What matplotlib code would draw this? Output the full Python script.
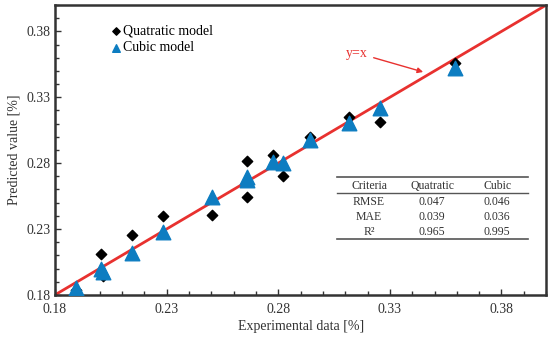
import numpy as np
import matplotlib.pyplot as plt
from matplotlib.ticker import MultipleLocator

plt.rcParams['font.family'] = ['Liberation Serif', 'DejaVu Serif']

exp_data = [0.1894, 0.2006, 0.2015, 0.2145, 0.2284, 0.2505, 0.2658, 0.2662,
            0.2777, 0.2821, 0.2942, 0.3117, 0.3256, 0.3592]
quad_pred = [0.184, 0.211, 0.194, 0.2255, 0.240, 0.2407, 0.2817, 0.2543,
             0.2862, 0.2703, 0.2999, 0.315, 0.311, 0.356]
cubic_pred = [0.185, 0.1995, 0.197, 0.212, 0.2278, 0.2543, 0.2695, 0.267,
              0.281, 0.280, 0.2976, 0.3105, 0.3219, 0.3522]

ticks = [0.18, 0.23, 0.28, 0.33, 0.38]
table_cols = ["Criteria", "Quatratic", "Cubic"]
table_rows = [["RMSE", "0.047", "0.046"],
              ["MAE", "0.039", "0.036"],
              ["R\u00b2", "0.965", "0.995"]]

fig = plt.figure(figsize=(5.5, 3.37), dpi=100)
ax = fig.add_axes([0.1, 0.125, 0.893, 0.86])

ax.plot([0.18, 0.40], [0.18, 0.40], color="#e8312f", lw=2, zorder=2)
ax.scatter(exp_data, quad_pred, marker="D", s=28, color="black", zorder=3,
           label="Quatratic model")
ax.scatter(exp_data, cubic_pred, marker="^", s=110, color="#0d7dc1", zorder=4,
           label="Cubic model")

ax.annotate("y=x", xy=(0.3449, 0.3492), xytext=(0.3105, 0.3636),
            color="#e8312f", fontsize=10, va="center",
            arrowprops=dict(arrowstyle="-|>", color="#e8312f", lw=1,
                            mutation_scale=8, shrinkA=2, shrinkB=0))

ax.set_xlim(0.18, 0.40)
ax.set_ylim(0.18, 0.40)
ax.set_xticks(ticks)
ax.set_yticks(ticks)
ax.xaxis.set_minor_locator(MultipleLocator(0.01))
ax.yaxis.set_minor_locator(MultipleLocator(0.01))
ax.tick_params(which="both", direction="in", top=False, right=False,
               colors="#333333", labelsize=10)
ax.tick_params(which="major", length=4, width=1)
ax.tick_params(which="minor", length=3, width=1)
ax.tick_params(axis="x", pad=6)
for s in ax.spines.values():
    s.set_linewidth(1.8)
    s.set_color("#333333")

ax.set_xlabel("Experimental data [%]", fontsize=10, color="#333333", labelpad=3)
ax.set_ylabel("Predicted value [%]", fontsize=10, color="#333333", labelpad=4)

leg = ax.legend(loc="upper left", bbox_to_anchor=(0.09, 0.965), frameon=False,
                fontsize=10, handletextpad=0.0, borderpad=0.2,
                labelspacing=0.25, handlelength=1.0)
leg.legend_handles[0].set_sizes([14])
leg.legend_handles[1].set_sizes([30])

# criteria table
col_x = [(369 - 55) / 491, (432 - 55) / 491, (497 - 55) / 491]
row_y = [(295 - py) / 290 for py in [186, 202, 217, 232]]
for cx, t in zip(col_x, table_cols):
    ax.text(cx, row_y[0], t, transform=ax.transAxes, ha="center", va="center",
            fontsize=8.5, color="#333333")
for r, row in enumerate(table_rows):
    for cx, t in zip(col_x, row):
        ax.text(cx, row_y[r + 1], t, transform=ax.transAxes, ha="center",
                va="center", fontsize=8.5, color="#333333")
x0, x1 = (337 - 55) / 491, (528 - 55) / 491
for py, lw in [(177, 1.2), (193, 1.0), (239, 1.2)]:
    yy = (295 - py) / 290
    ax.plot([x0, x1], [yy, yy], transform=ax.transAxes, color="#555555", lw=lw)

fig.savefig("out.png", dpi=100)
